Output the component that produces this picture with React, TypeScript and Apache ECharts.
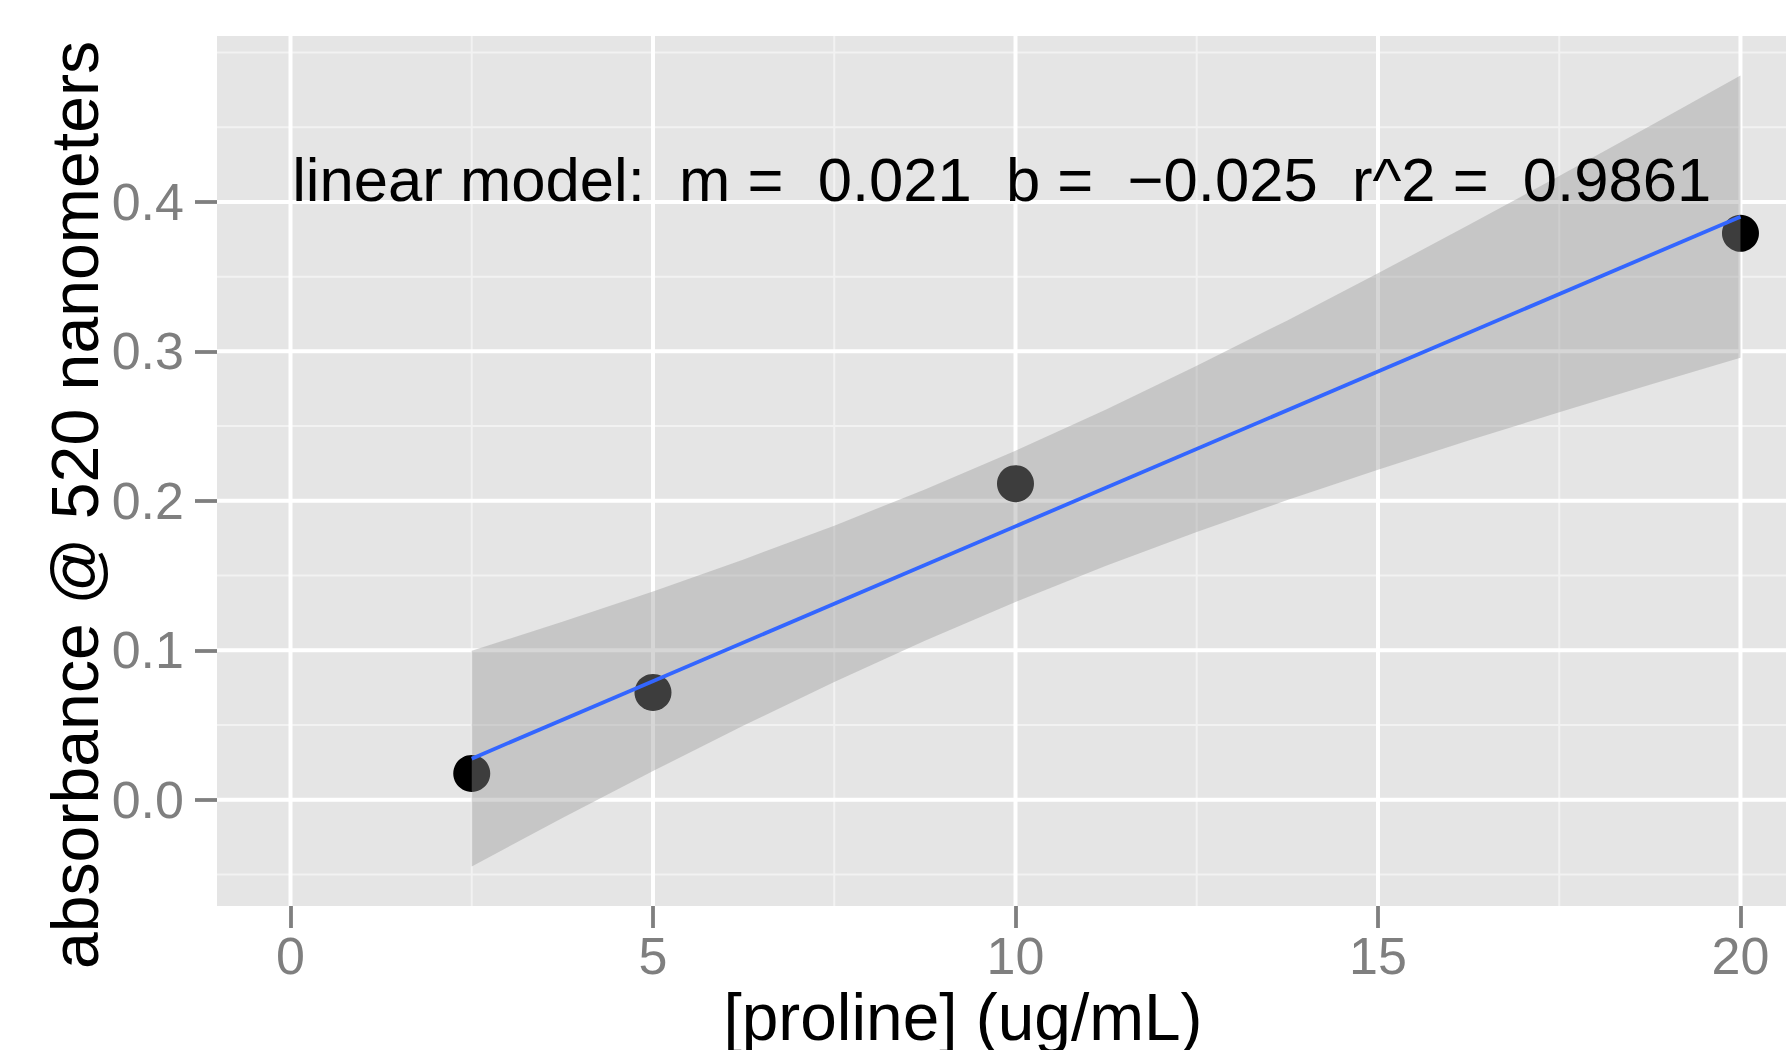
import React, { useEffect, useRef } from "react";
import * as echarts from "echarts";

// ---- data ----
const concX = [2.5, 5, 10, 20];
const absY = [0.0176, 0.0718, 0.2115, 0.379];

const fitX = [2.5, 20];
const fitY = [0.0275, 0.3901];

const bandX = [2.5, 3.75, 5, 6.25, 7.5, 8.75, 10, 11.25, 12.5, 13.75, 15, 16.25, 17.5, 18.75, 20];
const bandLower = [-0.0446, -0.0123, 0.0192, 0.0496, 0.0788, 0.1064, 0.1323, 0.1565, 0.1791, 0.2005, 0.2208, 0.2403, 0.2592, 0.2776, 0.2957];
const bandUpper = [0.0996, 0.1191, 0.1394, 0.1608, 0.1834, 0.2076, 0.2335, 0.2611, 0.2903, 0.3207, 0.3522, 0.3845, 0.4174, 0.4508, 0.4845];

const xTicks = [0, 5, 10, 15, 20];
const yTicks = [0, 0.1, 0.2, 0.3, 0.4];
const xMinor = [2.5, 7.5, 12.5, 17.5];
const yMinor = [-0.05, 0.05, 0.15, 0.25, 0.35, 0.45, 0.5];

const annotText = "linear model:  m =  0.021  b =  \u22120.025  r^2 =  0.9861";
const annotPos = [9.81, 0.4148];

const xTitle = "[proline] (ug/mL)";
const yTitle = "absorbance @ 520 nanometers";

const FONT = "'Liberation Sans', Arial, Helvetica, sans-serif";

export default function App() {
  const ref = useRef<HTMLDivElement>(null);

  useEffect(() => {
    document.body.style.margin = "0";
    const chart = echarts.init(ref.current!, undefined, { renderer: "svg" });

    // grid line items: [orientation (0 vertical, 1 horizontal), value, kind (0 major, 1 minor)]
    const gridItems: number[][] = [
      ...xMinor.map((v) => [0, v, 1]),
      ...yMinor.map((v) => [1, v, 1]),
      ...xTicks.map((v) => [0, v, 0]),
      ...yTicks.map((v) => [1, v, 0]),
    ];

    const bandData = bandX.map((x, i) => [x, bandLower[i], bandUpper[i]]);

    const option: any = {
      animation: false,
      backgroundColor: "#FFFFFF",
      textStyle: { fontFamily: FONT },
      grid: {
        left: 217,
        top: 36,
        right: 0,
        height: 870,
        show: true,
        backgroundColor: "#E5E5E5",
        borderWidth: 0,
        containLabel: false,
      },
      xAxis: {
        type: "value",
        min: -1.0138,
        max: 20.628,
        axisLine: { show: false, onZero: false },
        splitLine: { show: false },
        axisTick: {
          show: true,
          customValues: xTicks,
          length: 22,
          lineStyle: { color: "#7F7F7F", width: 3.8 },
        },
        axisLabel: {
          customValues: xTicks,
          color: "#7F7F7F",
          fontSize: 52,
          fontFamily: FONT,
          margin: 50,
          verticalAlign: "middle",
        },
      },
      yAxis: {
        type: "value",
        min: -0.0711,
        max: 0.511,
        axisLine: { show: false, onZero: false },
        splitLine: { show: false },
        axisTick: {
          show: true,
          customValues: yTicks,
          length: 22,
          lineStyle: { color: "#7F7F7F", width: 3.8 },
        },
        axisLabel: {
          customValues: yTicks,
          formatter: (v: number) => v.toFixed(1),
          color: "#7F7F7F",
          fontSize: 52,
          fontFamily: FONT,
          margin: 33,
        },
      },
      graphic: [
        {
          type: "text",
          x: 963,
          y: 1017,
          silent: true,
          style: {
            text: xTitle,
            fill: "#000000",
            fontSize: 65.8,
            fontFamily: FONT,
            textAlign: "center",
            textVerticalAlign: "middle",
            align: "center",
            verticalAlign: "middle",
          },
        },
        {
          type: "text",
          x: 75,
          y: 505,
          rotation: Math.PI / 2,
          silent: true,
          style: {
            text: yTitle,
            fill: "#000000",
            fontSize: 66.2,
            fontFamily: FONT,
            textAlign: "center",
            textVerticalAlign: "middle",
            align: "center",
            verticalAlign: "middle",
          },
        },
      ],
      series: [
        {
          name: "gridlines",
          type: "custom",
          z: 1,
          silent: true,
          data: gridItems,
          encode: { x: 1, y: 1 },
          renderItem: (params: any, api: any) => {
            const cs = params.coordSys;
            const orient = api.value(0);
            const v = api.value(1);
            const kind = api.value(2);
            let shape;
            if (orient === 0) {
              const px = api.coord([v, 0])[0];
              shape = { x1: px, y1: cs.y, x2: px, y2: cs.y + cs.height };
            } else {
              const py = api.coord([0, v])[1];
              shape = { x1: cs.x, y1: py, x2: cs.x + cs.width, y2: py };
            }
            return {
              type: "line",
              shape,
              style: {
                stroke: kind === 1 ? "#F2F2F2" : "#FFFFFF",
                lineWidth: kind === 1 ? 2 : 4,
              },
            };
          },
        },
        {
          name: "points",
          type: "scatter",
          z: 2,
          symbol: "circle",
          symbolSize: 37,
          itemStyle: { color: "#000000", opacity: 1 },
          data: concX.map((x, i) => [x, absY[i]]),
        },
        {
          name: "band",
          type: "custom",
          z: 3,
          silent: true,
          data: bandData,
          encode: { x: 0, y: [1, 2] },
          renderItem: (params: any, api: any) => {
            if (params.dataIndex !== 0) return null;
            const upper = bandData.map((d) => api.coord([d[0], d[2]]));
            const lower = bandData
              .slice()
              .reverse()
              .map((d) => api.coord([d[0], d[1]]));
            return {
              type: "polygon",
              shape: { points: upper.concat(lower) },
              style: { fill: "rgba(153,153,153,0.4)" },
            };
          },
        },
        {
          name: "fit",
          type: "line",
          z: 4,
          showSymbol: false,
          symbol: "none",
          lineStyle: { color: "#3366FF", width: 3.8 },
          data: fitX.map((x, i) => [x, fitY[i]]),
        },
        {
          name: "annotation",
          type: "scatter",
          z: 5,
          symbolSize: 1,
          itemStyle: { color: "rgba(0,0,0,0)", opacity: 1 },
          silent: true,
          label: {
            show: true,
            position: "inside",
            formatter: annotText,
            color: "#000000",
            opacity: 1,
            fontSize: 61.6,
            fontFamily: FONT,
          },
          data: [annotPos],
        },
      ],
    };

    chart.setOption(option);
    return () => chart.dispose();
  }, []);

  return <div ref={ref} style={{ width: 1786, height: 1050 }} />;
}
